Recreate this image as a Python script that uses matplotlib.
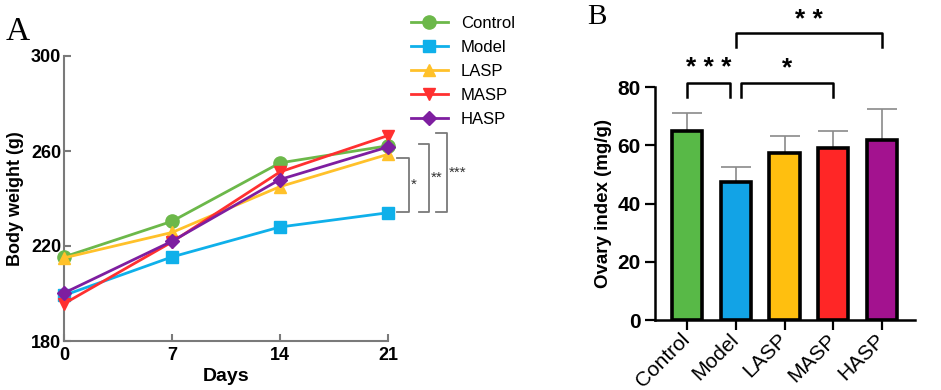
import matplotlib
import matplotlib.pyplot as plt
import numpy as np

matplotlib.use("Agg")

plt.rcParams["font.family"] = ["Liberation Sans", "DejaVu Sans"]

# Panel A: body weight over time
days = [0, 7, 14, 21]
groups = ["Control", "Model", "LASP", "MASP", "HASP"]
weight_control = [215.4, 230.4, 255.0, 262.2]
weight_model = [199.2, 215.4, 228.0, 234.0]
weight_lasp = [215.0, 225.7, 245.0, 258.6]
weight_masp = [195.7, 221.7, 251.2, 266.5]
weight_hasp = [200.2, 222.0, 248.0, 261.7]

# Panel B: ovary index
ovary_mean = [65.1, 47.5, 57.5, 59.2, 61.9]
ovary_err = [5.9, 5.2, 5.8, 5.8, 10.5]

line_colors = ["#6cb84a", "#0fb0ea", "#ffc12a", "#ff3030", "#7e1ea0"]
bar_colors = ["#58b947", "#12a3e6", "#ffbf0f", "#ff2626", "#a3128f"]
markers = ["o", "s", "^", "v", "D"]
marker_sizes = [9.5, 9, 9, 9, 7]
axis_grey = "#7a7a7a"

fig = plt.figure(figsize=(9.41, 3.9), dpi=100)

# ---------------- Panel A ----------------
ax1 = fig.add_axes([64 / 941, 1 - 341 / 390, 324 / 941, 285 / 390])
series = [weight_control, weight_model, weight_lasp, weight_masp, weight_hasp]
for vals, name, c, m, ms in zip(series, groups, line_colors, markers, marker_sizes):
    ax1.plot(days, vals, color=c, marker=m, markersize=ms, linewidth=2,
             label=name, clip_on=False, zorder=3)

ax1.set_xlim(0, 21)
ax1.set_ylim(180, 300)
ax1.set_xticks(days)
ax1.set_yticks([180, 220, 260, 300])
for s in ["top", "right"]:
    ax1.spines[s].set_visible(False)
for s in ["left", "bottom"]:
    ax1.spines[s].set_color(axis_grey)
    ax1.spines[s].set_linewidth(1.5)
ax1.tick_params(direction="in", length=5, width=1.5, color=axis_grey,
                labelsize=13, pad=2)
ax1.tick_params(axis="x", pad=4)
for lab in ax1.get_xticklabels() + ax1.get_yticklabels():
    lab.set_fontweight("bold")
ax1.set_xlabel("Days", fontsize=14, fontweight="bold", labelpad=3)
ax1.set_ylabel("Body weight (g)", fontsize=13, fontweight="bold", labelpad=5)

ax1.legend(loc="upper left", bbox_to_anchor=(1.05, 1.165), frameon=False,
           fontsize=12, handlelength=2.2, labelspacing=0.55, borderaxespad=0)

# significance brackets at day 21
brackets_a = [(21.6, 22.35, 257.1, "*"), (23.0, 23.65, 262.8, "**"), (24.1, 24.8, 267.5, "***")]
low = 234.4
for x0, x1, top, txt in brackets_a:
    ax1.plot([x0, x1, x1, x0], [top, top, low, low], color=axis_grey,
             linewidth=1.3, clip_on=False)
    ax1.text(x1 + 0.15, (top + low) / 2, txt, fontsize=11, va="center",
             ha="left", color="#333333")

fig.text(6 / 941, 1 - 32 / 390, "A", fontsize=24, family="Liberation Serif",
         va="center", ha="left")

# ---------------- Panel B ----------------
ax2 = fig.add_axes([655 / 941, 1 - 320 / 390, 260 / 941, 232.7 / 390])
xpos = np.arange(len(groups))
ax2.bar(xpos, ovary_mean, width=0.62, color=bar_colors, edgecolor="black",
        linewidth=2.6, zorder=2)
ax2.errorbar(xpos, ovary_mean, yerr=[np.zeros(len(xpos)), ovary_err], fmt="none",
             ecolor="#8a8a8a", elinewidth=1.2, capsize=11, capthick=1.2, zorder=1)

ax2.set_xlim(-0.66, 4.68)
ax2.set_ylim(0, 80)
ax2.set_yticks([0, 20, 40, 60, 80])
ax2.set_xticks(xpos)
ax2.set_xticklabels(groups, rotation=45, ha="right", va="center",
                    rotation_mode="anchor", fontsize=11.5)
for s in ["top", "right"]:
    ax2.spines[s].set_visible(False)
for s in ["left", "bottom"]:
    ax2.spines[s].set_linewidth(1.8)
ax2.tick_params(direction="out", length=7, width=1.6, labelsize=15)
ax2.tick_params(axis="x", pad=5)
for lab in ax2.get_yticklabels():
    lab.set_fontweight("bold")
ax2.set_ylabel("Ovary index (mg/g)", fontsize=13.5, fontweight="bold", labelpad=4)

brackets_b = [(0.0, 0.89, 81.6, 76.8, "* * *", 86.5),
              (1.1, 2.99, 81.6, 76.8, "*", 86.5),
              (1.0, 4.0, 98.6, 94.0, "* *", 103.0)]
for x0, x1, top, leg, txt, ty in brackets_b:
    ax2.plot([x0, x0, x1, x1], [leg, top, top, leg], color="black",
             linewidth=1.8, clip_on=False)
    ax2.text((x0 + x1) / 2, ty, txt, fontsize=19, fontweight="bold",
             ha="center", va="center")

fig.text(587 / 941, 1 - 17 / 390, "B", fontsize=21, family="Liberation Serif",
         va="center", ha="left")

fig.savefig("out.png", dpi=100)
